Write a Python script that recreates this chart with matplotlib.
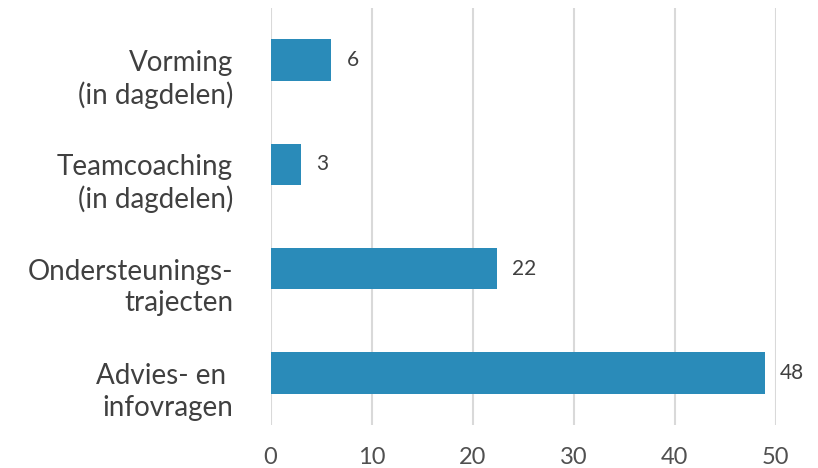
import matplotlib
matplotlib.use("Agg")
import matplotlib.pyplot as plt
import matplotlib.transforms as mtransforms

plt.rcParams['font.family'] = ['Lato', 'DejaVu Sans']

categories = ["Vorming\n(in dagdelen)", "Teamcoaching\n(in dagdelen)",
              "Ondersteunings-\ntrajecten", "Advies- en \ninfovragen"]
bar_values = [6.0, 3.0, 22.4, 48.9]
value_labels = ["6", "3", "22", "48"]
x_ticks = [0, 10, 20, 30, 40, 50]

fig = plt.figure(figsize=(8.18, 4.68), dpi=100)
ax = fig.add_axes([0.3307, 0.0919, 0.6175, 0.891])

ypos = list(range(len(categories)))
ax.barh(ypos, bar_values, height=0.4, color='#2A8BB9', zorder=3)

for y, v, lab in zip(ypos, bar_values, value_labels):
    ax.annotate(lab, (v, y), xytext=(11, 0), textcoords='offset points',
                ha='left', va='center', fontsize=15, color='#404040')

ax.set_xlim(0, 50)
ax.set_ylim(3.5, -0.5)
ax.set_xticks(x_ticks)
ax.set_xticklabels([str(t) for t in x_ticks], fontsize=17, color='#505050')
ax.set_yticks(ypos)
ax.set_yticklabels(categories, fontsize=20, color='#404040', ha='right',
                   multialignment='right', linespacing=1.25)
ax.tick_params(axis='both', length=0)
ax.tick_params(axis='y', pad=27)
ax.tick_params(axis='x', pad=16)

# labels sit a bit below the bar centre, like in the source chart
shift = mtransforms.ScaledTranslation(0, -10 / 72, fig.dpi_scale_trans)
for t in ax.get_yticklabels():
    t.set_transform(t.get_transform() + shift)

ax.grid(axis='x', color='#D9D9D9', linewidth=1.5, zorder=0)
for s in ax.spines.values():
    s.set_visible(False)

fig.savefig("out.png", dpi=100)
